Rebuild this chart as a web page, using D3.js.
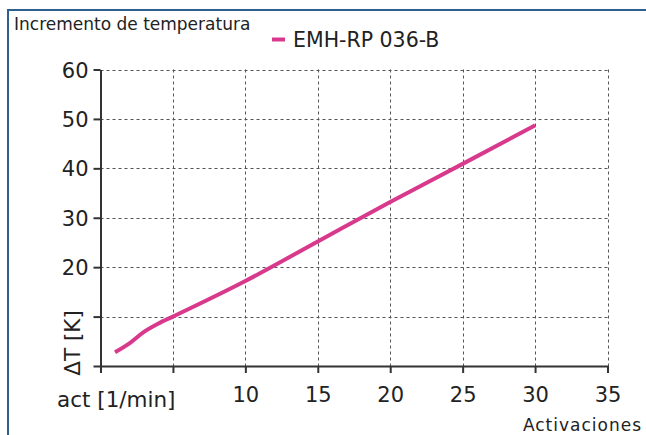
<!DOCTYPE html>
<html>
<head>
<meta charset="utf-8">
<title>Incremento de temperatura</title>
<script src="https://d3js.org/d3.v7.min.js"></script>
<style>
  body { margin: 0; background: #fff; }
  svg text { font-family: "DejaVu Sans", sans-serif; fill: #222; }
</style>
</head>
<body>
<svg id="chart" width="646" height="435"></svg>
<script>
// data
var activations = [1, 2, 3, 4, 5, 10, 15, 20, 25, 30];
var deltaT = [2.8, 4.6, 6.9, 8.6, 10.0, 17.2, 25.2, 33.2, 40.9, 48.7];
var xTicks = [0, 5, 10, 15, 20, 25, 30, 35];
var yTicks = [0, 10, 20, 30, 40, 50, 60];
var seriesName = "EMH-RP 036-B";

var svg = d3.select("#chart");

// frame (left + top border)
svg.append("path")
  .attr("d", "M8,440 L8,10 L646,10")
  .attr("fill", "none")
  .attr("stroke", "#2f5f8f")
  .attr("stroke-width", 2);

var x = d3.scaleLinear().domain([0, 35]).range([100.5, 607.5]);
var y = d3.scaleLinear().domain([0, 60]).range([366, 69.5]);

//---- grid ----
var grid = svg.append("g").attr("stroke", "#555").attr("stroke-dasharray", "3,3").attr("stroke-width", 1);
grid.selectAll("line.v")
  .data(xTicks.filter(function(d) { return d > 0; }))
  .enter().append("line")
    .attr("x1", function(d) { return Math.round(x(d)) + 0.5; })
    .attr("x2", function(d) { return Math.round(x(d)) + 0.5; })
    .attr("y1", y(60)).attr("y2", y(0));
grid.selectAll("line.h")
  .data(yTicks.filter(function(d) { return d > 0; }))
  .enter().append("line")
    .attr("x1", x(0)).attr("x2", x(35))
    .attr("y1", function(d) { return Math.round(y(d)) + 0.5; })
    .attr("y2", function(d) { return Math.round(y(d)) + 0.5; });

//---- axes ----
var xAxis = svg.append("g")
  .attr("transform", "translate(0," + y(0) + ")")
  .call(d3.axisBottom(x).tickValues(xTicks).tickSize(7).tickSizeOuter(0)
    .tickFormat(function(d) { return d >= 10 ? d : ""; }));
var yAxis = svg.append("g")
  .attr("transform", "translate(" + x(0) + ",0)")
  .call(d3.axisLeft(y).tickValues(yTicks).tickSize(7).tickSizeOuter(0)
    .tickFormat(function(d) { return d >= 20 ? d : ""; }));

[xAxis, yAxis].forEach(function(a) {
  a.select(".domain").attr("stroke", "#333").attr("stroke-width", 2);
  a.selectAll(".tick line").attr("stroke", "#333").attr("stroke-width", 2);
  a.selectAll(".tick text").attr("font-size", "21px").attr("fill", "#222")
    .style("font-family", "'DejaVu Sans', sans-serif");
});
xAxis.selectAll(".tick text").attr("y", 21);
yAxis.selectAll(".tick text").attr("x", -12).attr("dy", "0.36em");

//---- line ----
var line = d3.line()
  .x(function(d, i) { return x(activations[i]); })
  .y(function(d) { return y(d); })
  .curve(d3.curveMonotoneX);

svg.append("path")
  .datum(deltaT)
  .attr("d", line)
  .attr("fill", "none")
  .attr("stroke", "#d9398c")
  .attr("stroke-width", 4)
  .attr("stroke-linecap", "butt");

//---- texts ----
svg.append("text")
  .attr("x", 14).attr("y", 30)
  .attr("font-size", "17px")
  .text("Incremento de temperatura");

svg.append("line")
  .attr("x1", 272).attr("x2", 285).attr("y1", 39.5).attr("y2", 39.5)
  .attr("stroke", "#d9398c").attr("stroke-width", 4);
svg.append("text")
  .attr("x", 293).attr("y", 47)
  .attr("font-size", "20.5px")
  .text(seriesName);

svg.append("text")
  .attr("transform", "translate(80,343) rotate(-90)")
  .attr("text-anchor", "middle")
  .attr("font-size", "21.5px")
  .text("ΔT [K]");

svg.append("text")
  .attr("x", 57).attr("y", 407)
  .attr("font-size", "21.5px")
  .text("act [1/min]");

svg.append("text")
  .attr("x", 642).attr("y", 431)
  .attr("text-anchor", "end")
  .attr("font-size", "17px")
  .attr("letter-spacing", "1px")
  .text("Activaciones");
</script>
</body>
</html>
